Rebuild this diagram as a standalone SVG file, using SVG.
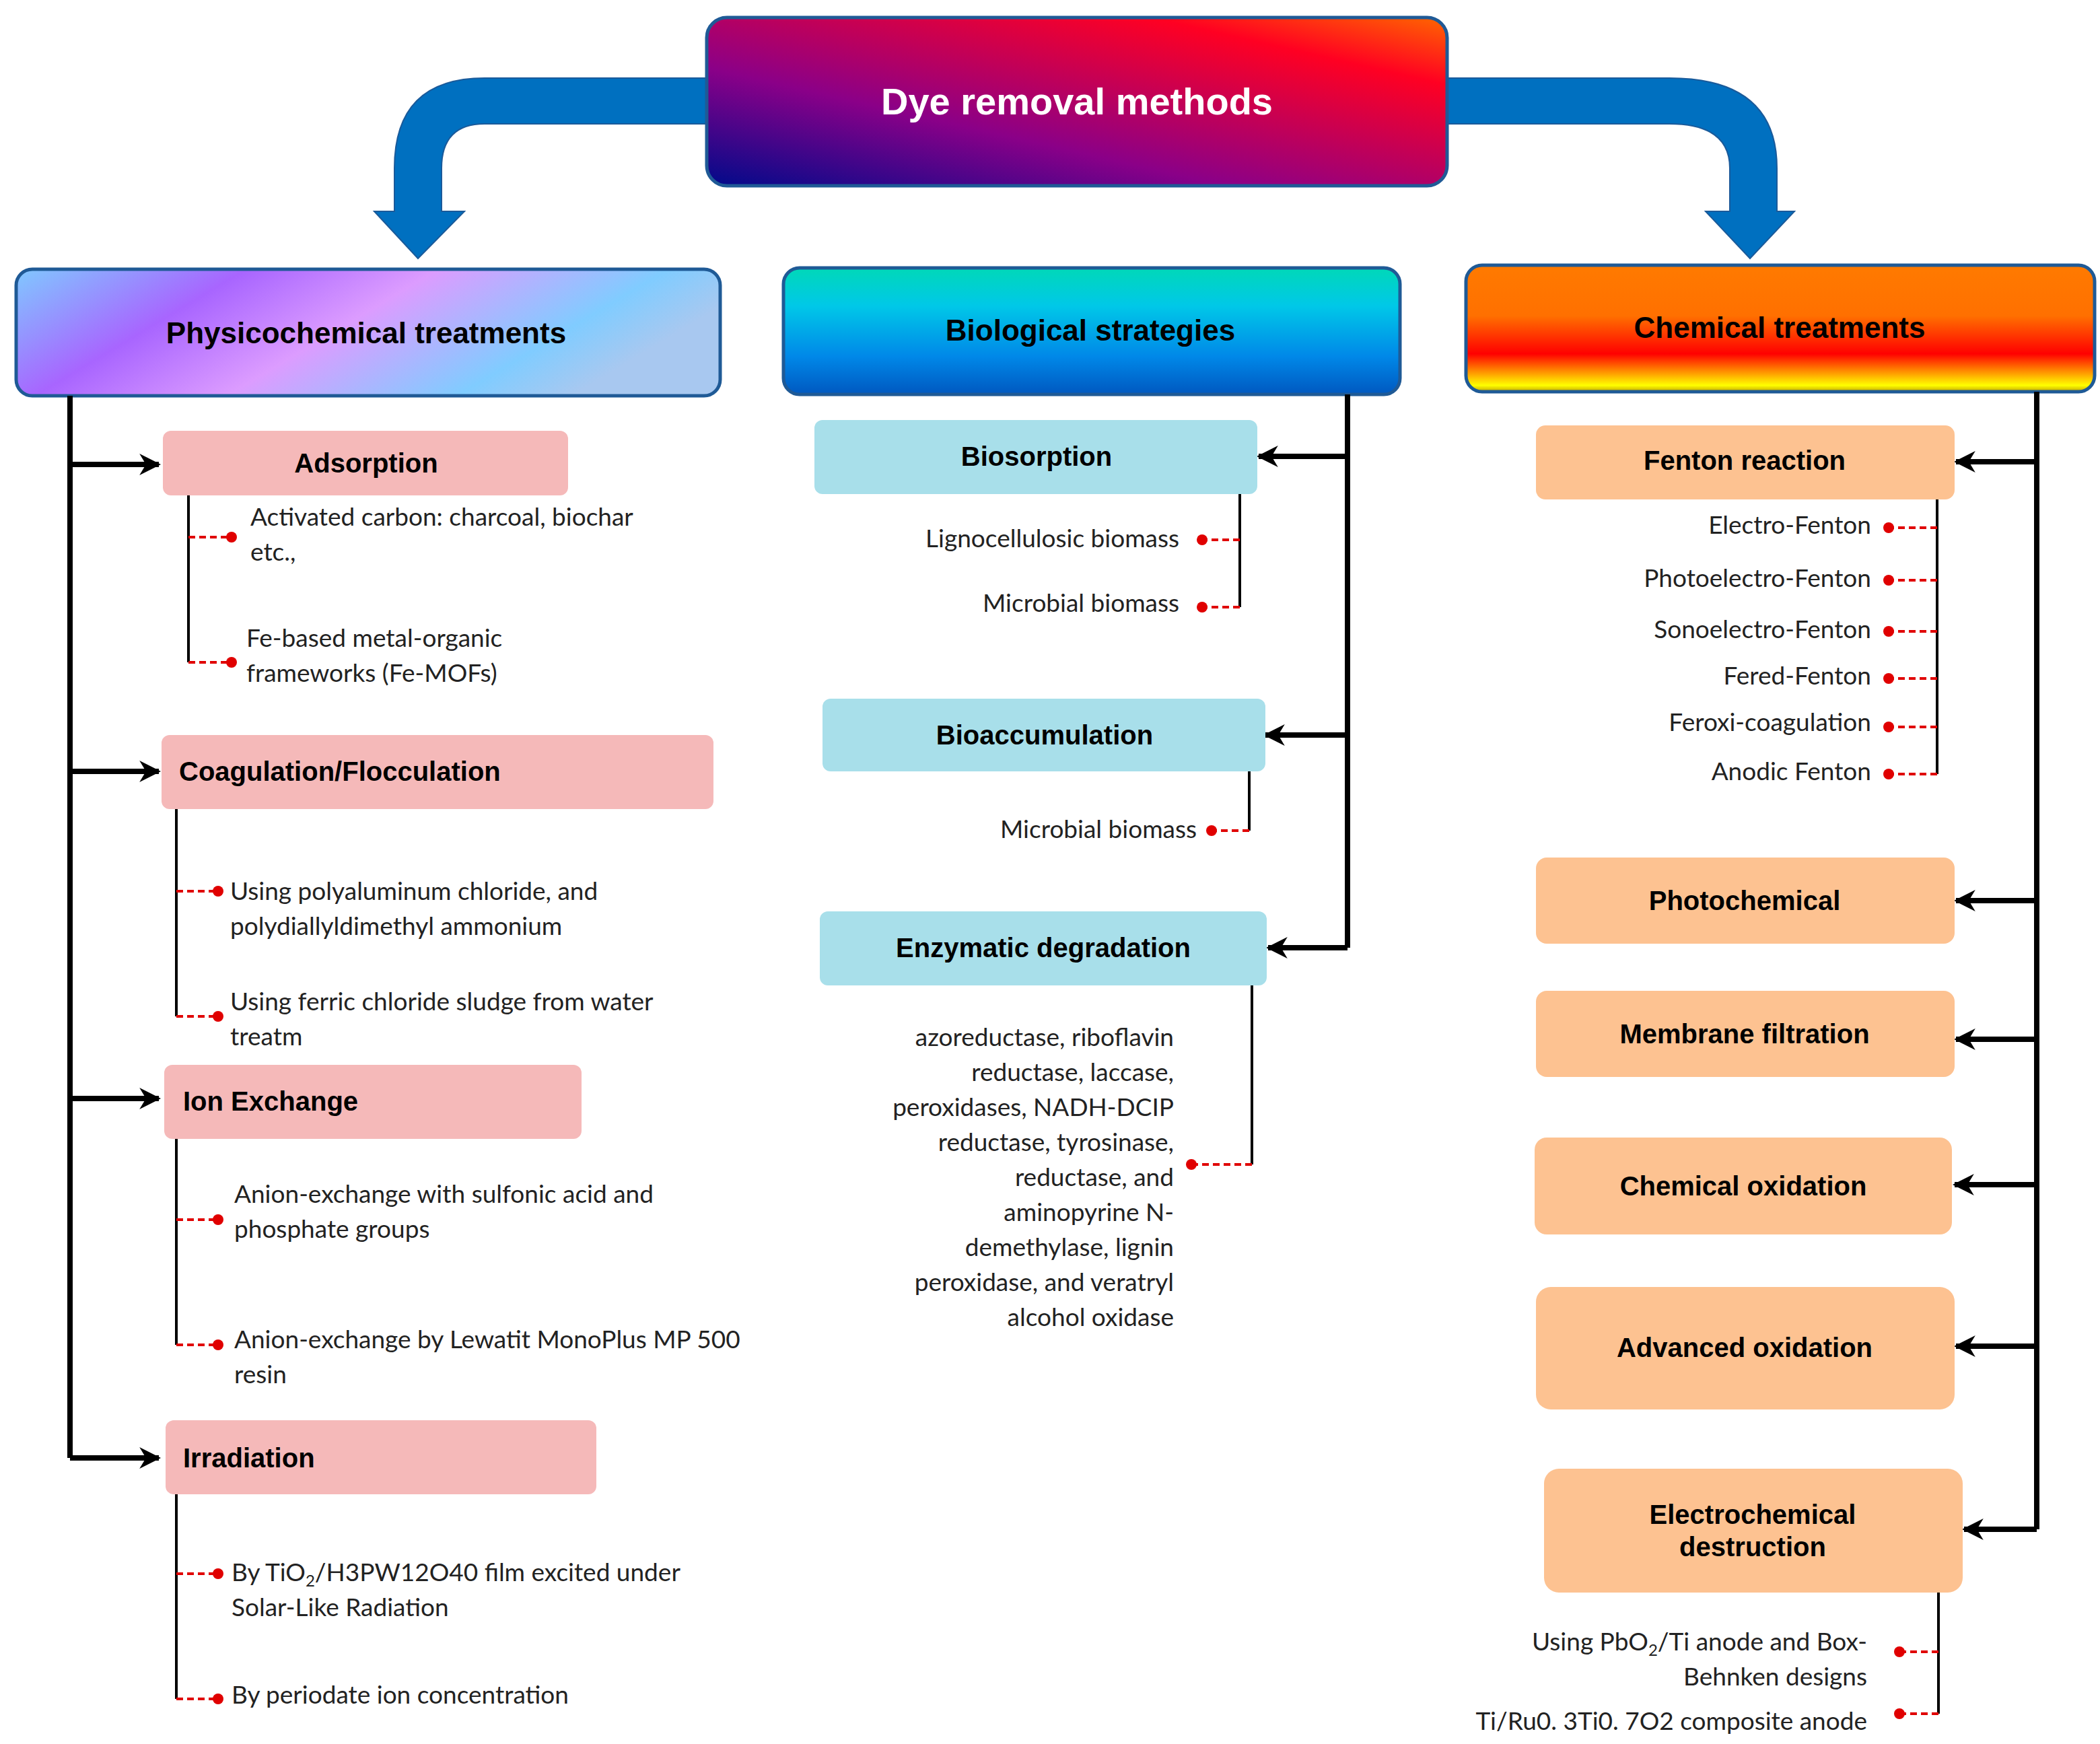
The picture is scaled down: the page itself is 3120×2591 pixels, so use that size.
<svg xmlns="http://www.w3.org/2000/svg" width="3120" height="2591" viewBox="0 0 3120 2591">
<defs>
<linearGradient id="gTop" x1="0" y1="1" x2="1" y2="0"><stop offset="0" stop-color="#000a8a"/><stop offset="0.35" stop-color="#8a0088"/><stop offset="0.8" stop-color="#ff0022"/><stop offset="1" stop-color="#ff6600"/></linearGradient>
<linearGradient id="gPhys" x1="0" y1="0" x2="1" y2="0.3"><stop offset="0" stop-color="#80c8ff"/><stop offset="0.3" stop-color="#a865ff"/><stop offset="0.55" stop-color="#dc9cff"/><stop offset="0.85" stop-color="#80ccff"/><stop offset="1" stop-color="#a8c8f0"/></linearGradient>
<linearGradient id="gBio" x1="0" y1="0" x2="0" y2="1"><stop offset="0" stop-color="#00d8b8"/><stop offset="0.3" stop-color="#00c8e8"/><stop offset="0.7" stop-color="#0088e8"/><stop offset="1" stop-color="#0058c0"/></linearGradient>
<linearGradient id="gChem" x1="0" y1="0" x2="0" y2="1"><stop offset="0" stop-color="#ff7a00"/><stop offset="0.4" stop-color="#ff7000"/><stop offset="0.7" stop-color="#ff0000"/><stop offset="0.95" stop-color="#ffff00"/><stop offset="1" stop-color="#c0a000"/></linearGradient>
<marker id="ah" viewBox="0 0 10 10" refX="9" refY="5" markerWidth="4" markerHeight="4" orient="auto" markerUnits="strokeWidth"><path d="M0,0 L10,5 L0,10 L3,5 Z" fill="#000"/></marker>
</defs>
<style>
.hd{font-family:"Liberation Sans",Arial,sans-serif;font-weight:bold;font-size:44px;text-anchor:middle;dominant-baseline:central;fill:#000}
.bx{font-family:"Liberation Sans",Arial,sans-serif;font-weight:bold;font-size:40px;dominant-baseline:central;fill:#000}
.it{font-family:Lato,"Open Sans",sans-serif;font-size:37px;fill:#222}
.pink{fill:#f5b9b9}
.cyan{fill:#a8dfea}
.peach{fill:#fdc291}
.trunk{stroke:#000;stroke-width:8;fill:none}
.br{stroke:#000;stroke-width:8;fill:none;marker-end:url(#ah)}
.sub{stroke:#000;stroke-width:4;fill:none}
.dash{stroke:#e00000;stroke-width:4;stroke-dasharray:10 6;fill:none}
.dot{fill:#e00000}
</style>

<g id="bigarrows" fill="#0070c0" stroke="#1a5a9a" stroke-width="2">
<path d="M1050,116 L720,116 Q586,116 586,250 L586,314 L556,314 L621,384 L690,314 L656,314 L656,250 Q656,184 720,184 L1050,184 Z"/>
<path d="M2150,116 L2480,116 Q2640,116 2640,250 L2640,314 L2666,314 L2600,384 L2534,314 L2570,314 L2570,250 Q2570,184 2480,184 L2150,184 Z"/>
</g>

<g id="top"><rect x="1050" y="26" width="1100" height="250" rx="30" fill="url(#gTop)" stroke="#1f5a96" stroke-width="5"/>
<text x="1600" y="150" class="hd" style="font-size:56px;fill:#fff">Dye removal methods</text></g>

<g id="phys"><rect x="24" y="400" width="1046" height="188" rx="24" fill="url(#gPhys)" stroke="#1f5a96" stroke-width="5"/><text x="544" y="494" class="hd">Physicochemical treatments</text></g>
<g id="bio"><rect x="1164" y="398" width="916" height="188" rx="24" fill="url(#gBio)" stroke="#1f5a96" stroke-width="5"/><text x="1620" y="490" class="hd">Biological strategies</text></g>
<g id="chem"><rect x="2178" y="394" width="934" height="188" rx="24" fill="url(#gChem)" stroke="#1f5a96" stroke-width="5"/><text x="2644" y="486" class="hd">Chemical treatments</text></g>

<g id="connectors">
<path class="trunk" d="M104,588 V2166"/>
<path class="br" d="M104,690 H236"/><path class="br" d="M104,1146 H236"/><path class="br" d="M104,1632 H236"/><path class="br" d="M104,2166 H236"/>
<path class="trunk" d="M2002,586 V1408"/>
<path class="br" d="M2002,678 H1870"/><path class="br" d="M2002,1092 H1880"/><path class="br" d="M2002,1408 H1884"/>
<path class="trunk" d="M3026,582 V2272"/>
<path class="br" d="M3026,686 H2906"/><path class="br" d="M3026,1338 H2906"/><path class="br" d="M3026,1544 H2906"/><path class="br" d="M3026,1760 H2904"/><path class="br" d="M3026,2000 H2906"/><path class="br" d="M3026,2272 H2918"/>
<!-- sub connectors -->
<path class="sub" d="M280,736 V984"/><path class="dash" d="M280,798 H344 M280,984 H344"/>
<path class="sub" d="M262,1202 V1510"/><path class="dash" d="M262,1324 H324 M262,1510 H324"/>
<path class="sub" d="M262,1692 V1998"/><path class="dash" d="M262,1812 H324 M262,1998 H324"/>
<path class="sub" d="M262,2220 V2524"/><path class="dash" d="M262,2338 H324 M262,2524 H324"/>
<path class="sub" d="M1842,734 V902"/><path class="dash" d="M1842,802 H1786 M1842,902 H1786"/>
<path class="sub" d="M1856,1146 V1234"/><path class="dash" d="M1856,1234 H1800"/>
<path class="sub" d="M1860,1464 V1730"/><path class="dash" d="M1860,1730 H1770"/>
<path class="sub" d="M2878,742 V1150"/><path class="dash" d="M2878,784 H2806 M2878,862 H2806 M2878,938 H2806 M2878,1008 H2806 M2878,1080 H2806 M2878,1150 H2806"/>
<path class="sub" d="M2880,2366 V2546"/><path class="dash" d="M2880,2454 H2822 M2880,2546 H2822"/>
<g class="dot">
<circle cx="344" cy="798" r="8"/><circle cx="344" cy="984" r="8"/><circle cx="324" cy="1324" r="8"/><circle cx="324" cy="1510" r="8"/><circle cx="324" cy="1812" r="8"/><circle cx="324" cy="1998" r="8"/><circle cx="324" cy="2338" r="8"/><circle cx="324" cy="2524" r="8"/>
<circle cx="1786" cy="802" r="8"/><circle cx="1786" cy="902" r="8"/><circle cx="1800" cy="1234" r="8"/><circle cx="1770" cy="1730" r="8"/>
<circle cx="2806" cy="784" r="8"/><circle cx="2806" cy="862" r="8"/><circle cx="2806" cy="938" r="8"/><circle cx="2806" cy="1008" r="8"/><circle cx="2806" cy="1080" r="8"/><circle cx="2806" cy="1150" r="8"/>
<circle cx="2822" cy="2454" r="8"/><circle cx="2822" cy="2546" r="8"/>
</g>
</g>

<g id="adsorption"><rect class="pink" x="242" y="640" width="602" height="96" rx="12"/><text class="bx" x="544" y="688" text-anchor="middle">Adsorption</text>
<text class="it" x="372" y="781">Activated carbon: charcoal, biochar</text><text class="it" x="372" y="833">etc.,</text>
<text class="it" x="366" y="961">Fe-based metal-organic</text><text class="it" x="366" y="1013">frameworks (Fe-MOFs)</text></g>
<g id="coag"><rect class="pink" x="240" y="1092" width="820" height="110" rx="12"/><text class="bx" x="266" y="1146">Coagulation/Flocculation</text>
<text class="it" x="342" y="1337">Using polyaluminum chloride, and</text><text class="it" x="342" y="1389">polydiallyldimethyl ammonium</text>
<text class="it" x="342" y="1501">Using ferric chloride sludge from water</text><text class="it" x="342" y="1553">treatm</text></g>
<g id="ion"><rect class="pink" x="244" y="1582" width="620" height="110" rx="12"/><text class="bx" x="272" y="1636">Ion Exchange</text>
<text class="it" x="348" y="1787">Anion-exchange with sulfonic acid and</text><text class="it" x="348" y="1839">phosphate groups</text>
<text class="it" x="348" y="2003">Anion-exchange by Lewatit MonoPlus MP 500</text><text class="it" x="348" y="2055">resin</text></g>
<g id="irr"><rect class="pink" x="246" y="2110" width="640" height="110" rx="12"/><text class="bx" x="272" y="2166">Irradiation</text>
<text class="it" x="344" y="2349">By TiO<tspan font-size="24" dy="8">2</tspan><tspan dy="-8">/H3PW12O40 film excited under</tspan></text><text class="it" x="344" y="2401">Solar-Like Radiation</text>
<text class="it" x="344" y="2531">By periodate ion concentration</text></g>

<g id="biosorption"><rect class="cyan" x="1210" y="624" width="658" height="110" rx="12"/><text class="bx" x="1540" y="678" text-anchor="middle">Biosorption</text>
<g text-anchor="end"><text class="it" x="1752" y="813">Lignocellulosic biomass</text><text class="it" x="1752" y="909">Microbial biomass</text></g></g>
<g id="bioacc"><rect class="cyan" x="1222" y="1038" width="658" height="108" rx="12"/><text class="bx" x="1552" y="1092" text-anchor="middle">Bioaccumulation</text>
<text class="it" x="1778" y="1245" text-anchor="end">Microbial biomass</text></g>
<g id="enz"><rect class="cyan" x="1218" y="1354" width="664" height="110" rx="12"/><text class="bx" x="1550" y="1408" text-anchor="middle">Enzymatic degradation</text>
<g text-anchor="end"><text class="it" x="1744" y="1554">azoreductase, riboflavin</text><text class="it" x="1744" y="1606">reductase, laccase,</text><text class="it" x="1744" y="1658">peroxidases, NADH-DCIP</text><text class="it" x="1744" y="1710">reductase, tyrosinase,</text><text class="it" x="1744" y="1762">reductase, and</text><text class="it" x="1744" y="1814">aminopyrine N-</text><text class="it" x="1744" y="1866">demethylase, lignin</text><text class="it" x="1744" y="1918">peroxidase, and veratryl</text><text class="it" x="1744" y="1970">alcohol oxidase</text></g></g>

<g id="fenton"><rect class="peach" x="2282" y="632" width="622" height="110" rx="14"/><text class="bx" x="2592" y="684" text-anchor="middle">Fenton reaction</text>
<g text-anchor="end"><text class="it" x="2780" y="793">Electro-Fenton</text><text class="it" x="2780" y="872">Photoelectro-Fenton</text><text class="it" x="2780" y="948">Sonoelectro-Fenton</text><text class="it" x="2780" y="1017">Fered-Fenton</text><text class="it" x="2780" y="1086">Feroxi-coagulation</text><text class="it" x="2780" y="1159">Anodic Fenton</text></g></g>
<g id="photo"><rect class="peach" x="2282" y="1274" width="622" height="128" rx="16"/><text class="bx" x="2592" y="1338" text-anchor="middle">Photochemical</text></g>
<g id="membrane"><rect class="peach" x="2282" y="1472" width="622" height="128" rx="16"/><text class="bx" x="2592" y="1536" text-anchor="middle">Membrane filtration</text></g>
<g id="chemox"><rect class="peach" x="2280" y="1690" width="620" height="144" rx="18"/><text class="bx" x="2590" y="1762" text-anchor="middle">Chemical oxidation</text></g>
<g id="advox"><rect class="peach" x="2282" y="1912" width="622" height="182" rx="22"/><text class="bx" x="2592" y="2002" text-anchor="middle">Advanced oxidation</text></g>
<g id="electro"><rect class="peach" x="2294" y="2182" width="622" height="184" rx="22"/><text class="bx" x="2604" y="2250" text-anchor="middle">Electrochemical</text><text class="bx" x="2604" y="2298" text-anchor="middle">destruction</text>
<g text-anchor="end"><text class="it" x="2774" y="2452">Using PbO<tspan font-size="24" dy="8">2</tspan><tspan dy="-8">/Ti anode and Box-</tspan></text><text class="it" x="2774" y="2504">Behnken designs</text><text class="it" x="2774" y="2570">Ti/Ru0. 3Ti0. 7O2 composite anode</text></g></g>
</svg>
